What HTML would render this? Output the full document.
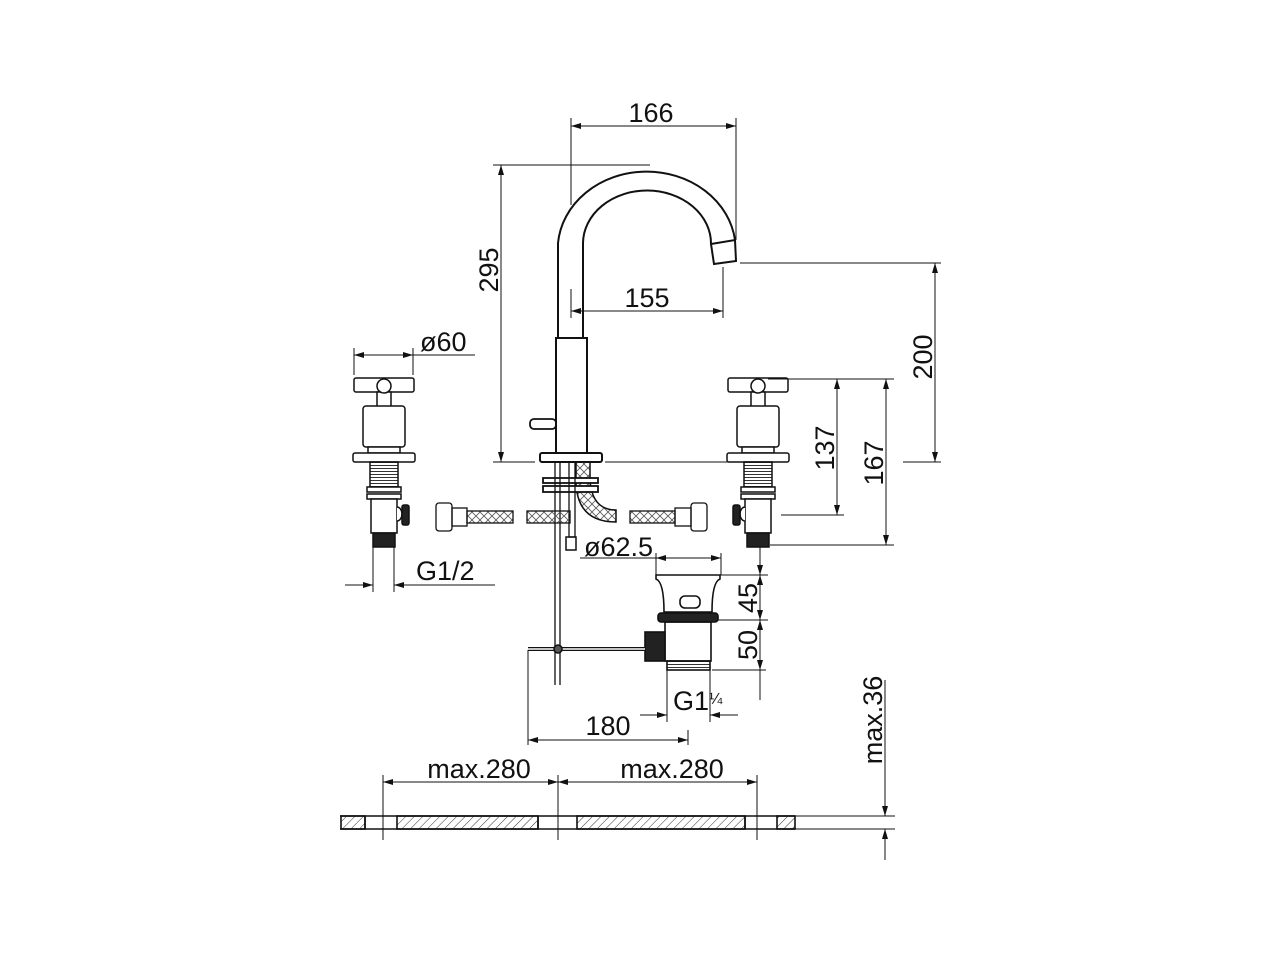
<!DOCTYPE html>
<html><head><meta charset="utf-8"><style>
html,body{margin:0;padding:0;background:#fff;}
svg{display:block}
text{font-family:"Liberation Sans",sans-serif;font-size:27px;fill:#111}
</style></head><body>
<svg width="1280" height="960" viewBox="0 0 1280 960" xmlns="http://www.w3.org/2000/svg">
<defs>
<marker id="a" viewBox="0 0 10 6" refX="10" refY="3" markerWidth="14" markerHeight="6" markerUnits="userSpaceOnUse" orient="auto-start-reverse"><path d="M0,0 L10,3 L0,6 z" fill="#111"/></marker>
<pattern id="h" width="6" height="6" patternUnits="userSpaceOnUse" patternTransform="rotate(45)"><line x1="0" y1="0" x2="0" y2="6" stroke="#333" stroke-width="1"/></pattern>
<pattern id="t" width="4" height="3" patternUnits="userSpaceOnUse"><line x1="0" y1="1.5" x2="4" y2="1.5" stroke="#333" stroke-width="1"/></pattern>
<pattern id="b" width="8" height="8" patternUnits="userSpaceOnUse"><path d="M0,0 L4,4 L8,0 M0,8 L4,4 L8,8" stroke="#555" fill="none" stroke-width="0.8"/></pattern>
<g id="hd" fill="#fff" stroke="#111" stroke-width="1.5">
<rect x="-30" y="-8" width="60" height="14" rx="2"/>
<rect x="-7" y="6" width="14" height="15"/>
<circle cx="0" cy="0" r="7"/>
<rect x="-21" y="20" width="42" height="41" rx="3"/>
<rect x="-16" y="61" width="32" height="6"/>
<rect x="-31" y="67" width="62" height="9" rx="2"/>
<rect x="-14" y="76" width="28" height="25" fill="url(#t)"/>
<rect x="-17" y="101" width="34" height="5"/>
<rect x="-17" y="108" width="34" height="5"/>
<rect x="-13" y="113" width="26" height="34"/>
<path d="M13,121 a5,7 0 0 1 0,14" />
<rect x="18" y="119" width="7" height="20" rx="2" fill="#222"/>
<rect x="-11" y="147" width="22" height="14" fill="#222"/>
</g>
</defs>
<g stroke="#111" stroke-width="1.3" fill="none">
<!-- spout -->
<path d="M558,338 L558,243 A89,78 0 0 1 735,240" stroke-width="2"/>
<path d="M583,338 L583,243 A64,53 0 0 1 711,244" stroke-width="2"/>
<path d="M711,244 L735,240 L736,261 L714,264 Z" stroke-width="2"/>
<rect x="556" y="338" width="31" height="115" stroke-width="2"/>
<rect x="530" y="419" width="26" height="10" rx="4" stroke-width="1.8"/>
<rect x="540" y="453" width="62" height="9" rx="2" stroke-width="2"/>
<!-- under-body -->
<path d="M576,462 L576,480 Q576,522 616,522 L616,510 Q592,510 590,480 L590,462 Z" fill="url(#b)" stroke-width="1.5"/>
<rect x="543" y="478" width="55" height="5" stroke-width="1.8" fill="#fff"/>
<rect x="543" y="486" width="55" height="6" stroke-width="1.8" fill="#fff"/>
<line x1="555" y1="462" x2="555" y2="685"/><line x1="560" y1="462" x2="560" y2="685"/>
<rect x="569" y="462" width="6" height="75"/><rect x="566" y="537" width="10" height="13" stroke-width="1.5"/>
<!-- hoses -->
<rect x="527" y="511" width="43" height="12" fill="url(#b)"/>
<rect x="467" y="511" width="46" height="12" fill="url(#b)"/>
<rect x="452" y="508" width="15" height="18"/><rect x="436" y="503" width="16" height="28" rx="3"/>
<rect x="630" y="511" width="45" height="12" fill="url(#b)"/>
<rect x="675" y="508" width="16" height="18"/><rect x="691" y="503" width="16" height="28" rx="3"/>
</g>
<use href="#hd" x="384" y="386"/>
<use href="#hd" transform="translate(758,386) scale(-1,1)"/>
<g stroke="#111" stroke-width="1.6" fill="none">
<!-- drain -->
<path d="M656,575 L720,575 L720,579 Q712,582 712,612 L664,612 Q664,582 656,579 Z"/>
<rect x="680" y="596" width="20" height="12" rx="5"/>
<rect x="658" y="613" width="60" height="9" rx="3" fill="#222"/>
<rect x="665" y="622" width="46" height="39"/>
<rect x="667" y="661" width="43" height="9" fill="url(#t)"/>
<rect x="645" y="632" width="20" height="29" fill="#222"/>
<line x1="528" y1="649" x2="645" y2="649" stroke-width="4"/>
<line x1="528" y1="649" x2="645" y2="649" stroke="#fff" stroke-width="1.5"/>
<circle cx="558" cy="649" r="4" fill="#555"/>
<!-- countertop -->
<line x1="340" y1="816" x2="795" y2="816"/><line x1="340" y1="829" x2="795" y2="829"/>
<rect x="341" y="816" width="24" height="13" fill="url(#h)"/>
<rect x="397" y="816" width="141" height="13" fill="url(#h)"/>
<rect x="577" y="816" width="168" height="13" fill="url(#h)"/>
<rect x="777" y="816" width="18" height="13" fill="url(#h)"/>
<line x1="365" y1="816" x2="365" y2="829"/><line x1="538" y1="816" x2="538" y2="829"/><line x1="745" y1="816" x2="745" y2="829"/>
</g>
<!-- dimensions -->
<g stroke="#111" stroke-width="1" fill="none">
<line x1="571" y1="118" x2="571" y2="205"/><line x1="736" y1="118" x2="736" y2="240"/>
<line x1="571" y1="126" x2="736" y2="126" marker-start="url(#a)" marker-end="url(#a)"/>
<line x1="493" y1="165" x2="650" y2="165"/>
<line x1="501" y1="165" x2="501" y2="462" marker-start="url(#a)" marker-end="url(#a)"/>
<line x1="493" y1="462" x2="535" y2="462"/><line x1="605" y1="462" x2="728" y2="462"/>
<line x1="571" y1="289" x2="571" y2="318"/><line x1="723" y1="267" x2="723" y2="318"/>
<line x1="571" y1="311" x2="723" y2="311" marker-start="url(#a)" marker-end="url(#a)"/>
<line x1="740" y1="263" x2="941" y2="263"/><line x1="903" y1="462" x2="941" y2="462"/>
<line x1="935" y1="263" x2="935" y2="462" marker-start="url(#a)" marker-end="url(#a)"/>
<line x1="768" y1="379" x2="894" y2="379"/>
<line x1="781" y1="515" x2="844" y2="515"/><line x1="770" y1="545" x2="894" y2="545"/>
<line x1="837" y1="379" x2="837" y2="515" marker-start="url(#a)" marker-end="url(#a)"/>
<line x1="886" y1="379" x2="886" y2="545" marker-start="url(#a)" marker-end="url(#a)"/>
<line x1="354" y1="348" x2="354" y2="375"/><line x1="413" y1="348" x2="413" y2="375"/>
<line x1="354" y1="355" x2="413" y2="355" marker-start="url(#a)" marker-end="url(#a)"/><line x1="413" y1="355" x2="475" y2="355"/>
<line x1="373" y1="547" x2="373" y2="592"/><line x1="394" y1="547" x2="394" y2="592"/>
<line x1="345" y1="585" x2="373" y2="585" marker-end="url(#a)"/><line x1="394" y1="585" x2="495" y2="585"/>
<line x1="394" y1="585" x2="420" y2="585" marker-start="url(#a)"/>
<line x1="656" y1="553" x2="656" y2="575"/><line x1="721" y1="553" x2="721" y2="575"/>
<line x1="580" y1="558" x2="656" y2="558"/>
<line x1="656" y1="558" x2="721" y2="558" marker-start="url(#a)" marker-end="url(#a)"/>
<line x1="760" y1="547" x2="760" y2="575" marker-end="url(#a)"/>
<line x1="760" y1="575" x2="760" y2="620" marker-start="url(#a)" marker-end="url(#a)"/>
<line x1="760" y1="620" x2="760" y2="670" marker-start="url(#a)" marker-end="url(#a)"/>
<line x1="760" y1="670" x2="760" y2="700"/>
<line x1="720" y1="575" x2="768" y2="575"/><line x1="718" y1="620" x2="768" y2="620"/><line x1="712" y1="670" x2="766" y2="670"/>
<line x1="667" y1="670" x2="667" y2="722"/><line x1="710" y1="670" x2="710" y2="722"/>
<line x1="640" y1="715" x2="667" y2="715" marker-end="url(#a)"/><line x1="710" y1="715" x2="738" y2="715"/>
<line x1="710" y1="715" x2="730" y2="715" marker-start="url(#a)"/>
<line x1="528" y1="650" x2="528" y2="745"/><line x1="688" y1="730" x2="688" y2="745"/>
<line x1="528" y1="740" x2="688" y2="740" marker-start="url(#a)" marker-end="url(#a)"/>
<line x1="383" y1="775" x2="383" y2="840"/><line x1="558" y1="775" x2="558" y2="840"/><line x1="757" y1="775" x2="757" y2="840"/>
<line x1="383" y1="782" x2="558" y2="782" marker-start="url(#a)" marker-end="url(#a)"/>
<line x1="558" y1="782" x2="757" y2="782" marker-start="url(#a)" marker-end="url(#a)"/>
<line x1="795" y1="816" x2="895" y2="816"/><line x1="795" y1="829" x2="895" y2="829"/>
<line x1="885" y1="680" x2="885" y2="816" marker-end="url(#a)"/>
<line x1="885" y1="860" x2="885" y2="829" marker-end="url(#a)"/>
</g>
<g>
<text x="651" y="122" text-anchor="middle">166</text>
<text x="647" y="307" text-anchor="middle">155</text>
<text transform="translate(498,270) rotate(-90)" text-anchor="middle">295</text>
<text transform="translate(932,357) rotate(-90)" text-anchor="middle">200</text>
<text transform="translate(834,448) rotate(-90)" text-anchor="middle">137</text>
<text transform="translate(883,463) rotate(-90)" text-anchor="middle">167</text>
<text x="420" y="351">ø60</text>
<text x="416" y="580">G1/2</text>
<text x="584" y="556">ø62.5</text>
<text transform="translate(757,598) rotate(-90)" text-anchor="middle">45</text>
<text transform="translate(757,645) rotate(-90)" text-anchor="middle">50</text>
<text x="673" y="710">G1<tspan font-size="16" dy="-6">¼</tspan></text>
<text x="608" y="735" text-anchor="middle">180</text>
<text x="479" y="778" text-anchor="middle">max.280</text>
<text x="672" y="778" text-anchor="middle">max.280</text>
<text transform="translate(882,720) rotate(-90)" text-anchor="middle">max.36</text>
</g>
</svg>
</body></html>
